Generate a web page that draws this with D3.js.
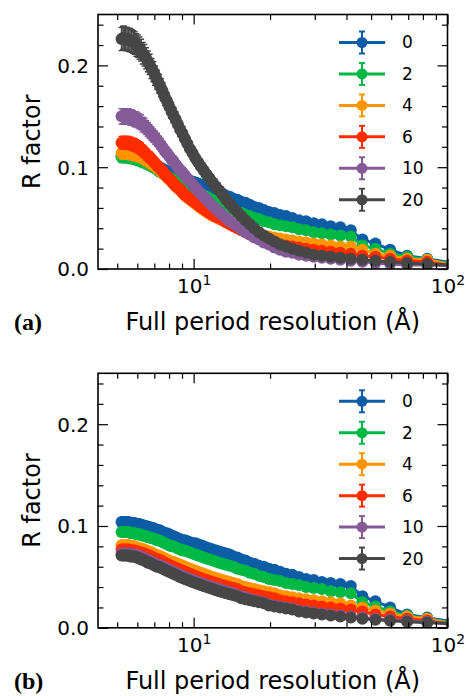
<!DOCTYPE html>
<html>
<head>
<meta charset="utf-8">
<script src="https://cdn.jsdelivr.net/npm/d3@7"></script>
<style>
  body { margin: 0; background: #fff; }
  svg { display: block; }
</style>
</head>
<body>
<svg width="466" height="696"></svg>
<script>
// resolution values (Å) shared by every series
var xVals = [5.2, 5.27, 5.33, 5.4, 5.47, 5.55, 5.62, 5.7, 5.78, 5.86, 5.94, 6.03, 6.12, 6.21, 6.3, 6.4, 6.5, 6.6, 6.71, 6.82,
  6.93, 7.05, 7.17, 7.3, 7.43, 7.56, 7.7, 7.85, 8, 8.16, 8.32, 8.49, 8.67, 8.85, 9.04, 9.24, 9.45, 9.67, 9.9, 10.15, 10.4,
  10.67, 10.95, 11.24, 11.56, 11.89, 12.24, 12.61, 13, 13.42, 13.87, 14.34, 14.86, 15.41, 16, 16.64, 17.33, 18.09, 18.91, 19.81, 20.8,
  21.89, 23.11, 24.47, 26, 27.73, 29.71, 32, 34.67, 37.82, 41.6, 46.22, 52, 59.43, 69.33, 83.2, 104];

var seriesNames = ['0', '2', '4', '6', '10', '20'];

// panel (a)
var a0 = [0.111,0.111,0.111,0.111,0.111,0.111,0.110,0.110,0.110,0.110,0.109,0.109,0.109,0.108,0.107,0.107,0.106,0.105,0.105,0.104,
  0.103,0.102,0.101,0.100,0.099,0.098,0.097,0.096,0.095,0.094,0.093,0.092,0.091,0.090,0.089,0.088,0.087,0.086,0.086,0.085,0.084,
  0.083,0.082,0.081,0.080,0.078,0.077,0.075,0.074,0.072,0.071,0.069,0.068,0.066,0.065,0.063,0.061,0.060,0.058,0.056,0.055,
  0.053,0.052,0.050,0.048,0.047,0.045,0.044,0.042,0.041,0.038,0.029,0.025,0.019,0.013,0.010,0.006];
var a2 = [0.110,0.110,0.110,0.110,0.110,0.110,0.109,0.109,0.109,0.108,0.108,0.107,0.107,0.106,0.105,0.105,0.104,0.103,0.102,0.101,
  0.100,0.099,0.098,0.096,0.095,0.094,0.093,0.091,0.090,0.089,0.088,0.086,0.085,0.084,0.083,0.081,0.080,0.079,0.078,0.076,0.075,
  0.074,0.072,0.071,0.069,0.068,0.066,0.065,0.063,0.062,0.060,0.058,0.056,0.055,0.053,0.052,0.050,0.049,0.047,0.046,0.044,
  0.043,0.042,0.041,0.039,0.038,0.036,0.035,0.034,0.033,0.032,0.023,0.020,0.015,0.012,0.009,0.005];
var a4 = [0.114,0.114,0.114,0.114,0.114,0.114,0.113,0.113,0.113,0.112,0.112,0.111,0.111,0.110,0.109,0.108,0.107,0.106,0.105,0.103,
  0.102,0.101,0.099,0.098,0.096,0.094,0.092,0.090,0.088,0.086,0.084,0.081,0.079,0.077,0.075,0.072,0.070,0.068,0.066,0.064,0.062,
  0.060,0.058,0.056,0.054,0.052,0.051,0.049,0.048,0.046,0.045,0.043,0.042,0.040,0.039,0.037,0.036,0.034,0.033,0.032,0.031,
  0.030,0.029,0.028,0.027,0.026,0.025,0.024,0.023,0.022,0.022,0.019,0.015,0.013,0.010,0.009,0.004];
var a6 = [0.124,0.124,0.124,0.124,0.124,0.124,0.123,0.123,0.122,0.122,0.121,0.120,0.119,0.118,0.116,0.115,0.113,0.111,0.110,0.108,
  0.106,0.104,0.102,0.100,0.098,0.096,0.093,0.091,0.089,0.087,0.084,0.082,0.080,0.078,0.075,0.073,0.071,0.069,0.067,0.065,0.063,
  0.061,0.059,0.057,0.055,0.053,0.051,0.050,0.048,0.046,0.044,0.042,0.040,0.038,0.036,0.034,0.032,0.031,0.029,0.027,0.026,
  0.024,0.023,0.022,0.021,0.020,0.019,0.018,0.017,0.016,0.015,0.013,0.012,0.010,0.008,0.007,0.003];
var a10 = [0.150,0.150,0.150,0.150,0.150,0.150,0.149,0.149,0.148,0.147,0.147,0.146,0.145,0.144,0.142,0.141,0.139,0.137,0.135,0.133,
  0.131,0.129,0.127,0.124,0.122,0.119,0.116,0.114,0.111,0.108,0.106,0.103,0.100,0.097,0.095,0.092,0.089,0.086,0.083,0.080,0.077,
  0.074,0.071,0.068,0.065,0.062,0.059,0.056,0.053,0.050,0.047,0.045,0.042,0.039,0.036,0.034,0.031,0.029,0.026,0.024,0.021,
  0.019,0.017,0.016,0.014,0.013,0.012,0.011,0.010,0.009,0.008,0.007,0.006,0.005,0.004,0.004,0.003];
var a20 = [0.226,0.227,0.227,0.226,0.226,0.225,0.225,0.224,0.223,0.222,0.220,0.219,0.217,0.215,0.212,0.210,0.207,0.204,0.201,0.197,
  0.194,0.190,0.186,0.182,0.178,0.174,0.169,0.165,0.160,0.156,0.151,0.147,0.142,0.137,0.133,0.128,0.123,0.118,0.114,0.109,0.105,
  0.101,0.097,0.093,0.089,0.085,0.081,0.077,0.073,0.068,0.064,0.060,0.056,0.052,0.048,0.044,0.040,0.036,0.033,0.030,0.027,
  0.024,0.022,0.020,0.018,0.016,0.014,0.013,0.012,0.011,0.010,0.009,0.008,0.007,0.006,0.005,0.004];

// panel (b)
var b0 = [0.104,0.104,0.104,0.104,0.104,0.104,0.103,0.103,0.103,0.103,0.102,0.102,0.102,0.101,0.101,0.100,0.100,0.099,0.099,0.098,
  0.098,0.097,0.096,0.096,0.095,0.094,0.093,0.093,0.092,0.091,0.090,0.089,0.088,0.087,0.086,0.086,0.085,0.084,0.083,0.083,0.082,
  0.081,0.080,0.079,0.078,0.077,0.076,0.075,0.074,0.073,0.072,0.070,0.069,0.067,0.066,0.064,0.063,0.061,0.060,0.058,0.057,
  0.055,0.053,0.052,0.050,0.048,0.047,0.045,0.044,0.043,0.041,0.031,0.026,0.020,0.013,0.010,0.006];
var b2 = [0.094,0.094,0.094,0.094,0.094,0.094,0.093,0.093,0.093,0.093,0.092,0.092,0.092,0.091,0.091,0.090,0.090,0.089,0.089,0.088,
  0.088,0.087,0.086,0.086,0.085,0.084,0.083,0.082,0.081,0.080,0.080,0.079,0.078,0.077,0.076,0.076,0.075,0.074,0.073,0.072,0.071,
  0.070,0.069,0.068,0.067,0.066,0.065,0.064,0.063,0.062,0.061,0.060,0.058,0.057,0.056,0.054,0.053,0.051,0.050,0.048,0.047,
  0.046,0.044,0.043,0.042,0.040,0.039,0.038,0.036,0.035,0.034,0.025,0.021,0.016,0.012,0.009,0.005];
var b4 = [0.081,0.081,0.081,0.081,0.081,0.081,0.080,0.080,0.080,0.080,0.079,0.079,0.078,0.078,0.077,0.077,0.076,0.075,0.075,0.074,
  0.073,0.072,0.071,0.071,0.070,0.069,0.068,0.067,0.066,0.065,0.065,0.064,0.063,0.062,0.061,0.060,0.059,0.058,0.057,0.056,0.055,
  0.054,0.053,0.052,0.051,0.050,0.049,0.048,0.047,0.046,0.045,0.044,0.043,0.041,0.040,0.039,0.038,0.037,0.036,0.035,0.034,
  0.032,0.031,0.030,0.029,0.028,0.027,0.026,0.025,0.024,0.022,0.020,0.017,0.014,0.011,0.009,0.004];
var b6 = [0.077,0.077,0.077,0.077,0.077,0.077,0.076,0.076,0.076,0.076,0.075,0.075,0.074,0.074,0.073,0.073,0.072,0.071,0.071,0.070,
  0.069,0.068,0.067,0.067,0.066,0.065,0.064,0.063,0.062,0.061,0.060,0.059,0.058,0.057,0.056,0.055,0.054,0.053,0.052,0.051,0.050,
  0.049,0.048,0.047,0.046,0.045,0.044,0.043,0.042,0.041,0.040,0.039,0.038,0.036,0.035,0.034,0.033,0.032,0.031,0.030,0.029,
  0.027,0.026,0.025,0.024,0.023,0.022,0.021,0.020,0.019,0.018,0.016,0.013,0.011,0.009,0.007,0.003];
var b10 = [0.073,0.073,0.073,0.073,0.073,0.073,0.072,0.072,0.072,0.072,0.071,0.071,0.070,0.069,0.069,0.068,0.067,0.066,0.066,0.065,
  0.064,0.063,0.062,0.062,0.061,0.060,0.059,0.058,0.057,0.056,0.055,0.054,0.053,0.052,0.051,0.050,0.049,0.048,0.047,0.046,0.045,
  0.044,0.043,0.042,0.041,0.040,0.039,0.038,0.037,0.036,0.035,0.034,0.032,0.031,0.030,0.028,0.027,0.026,0.025,0.023,0.022,
  0.021,0.020,0.019,0.017,0.016,0.015,0.014,0.013,0.012,0.011,0.010,0.009,0.008,0.007,0.006,0.004];
var b20 = [0.071,0.071,0.071,0.071,0.071,0.071,0.070,0.070,0.070,0.070,0.069,0.069,0.068,0.067,0.067,0.066,0.065,0.064,0.064,0.063,
  0.062,0.061,0.060,0.060,0.059,0.058,0.057,0.056,0.055,0.054,0.053,0.052,0.051,0.050,0.049,0.048,0.047,0.046,0.045,0.044,0.043,
  0.042,0.041,0.040,0.039,0.038,0.037,0.036,0.035,0.034,0.033,0.032,0.031,0.029,0.028,0.027,0.026,0.025,0.024,0.022,0.021,
  0.020,0.019,0.018,0.016,0.015,0.014,0.013,0.012,0.011,0.010,0.009,0.008,0.007,0.006,0.005,0.004];

// error bar half-width, percent of the value, per series
var errA = [5, 5, 5, 5, 5, 5];
var errB = [4, 4, 4, 4, 4, 4];

// ticks
var xMajor = [10, 100];
var xMinor = [5, 6, 7, 8, 9, 20, 30, 40, 50, 60, 70, 80, 90];
var yMajor = [0, 0.1, 0.2];
var yMinor = [0.02, 0.04, 0.06, 0.08, 0.12, 0.14, 0.16, 0.18, 0.22, 0.24];

var colors = ['#0C5DA5', '#00B945', '#FF9500', '#FF2C00', '#845B97', '#474747'];
var font = 'DejaVu Sans, sans-serif';

var svg = d3.select('svg');
svg.append('rect').attr('width', 466).attr('height', 696).attr('fill', '#fff');

var left = 98, right = 447.5;

function drawPanel(top, bottom, rows, errPct, tag, id) {
  var x = d3.scaleLog().domain([4.2, 100]).range([left, right]);
  var y = d3.scaleLinear().domain([0, 0.25]).range([bottom, top]);
  var g = svg.append('g');

  g.append('clipPath').attr('id', 'clip' + id)
    .append('rect')
    .attr('x', left).attr('y', top)
    .attr('width', right - left).attr('height', bottom - top);

  var plot = g.append('g').attr('clip-path', 'url(#clip' + id + ')');
  var line = d3.line().x(function(d) { return x(d.x); }).y(function(d) { return y(d.y); });

  rows.forEach(function(vals, i) {
    var c = colors[i];
    var pts = xVals.map(function(xv, j) {
      return {x: xv, y: vals[j], e: vals[j] * errPct[i] / 100};
    });
    var s = plot.append('g');

    // error bars with caps
    s.selectAll('.bar').data(pts).enter().append('line')
      .attr('x1', function(d) { return x(d.x); })
      .attr('x2', function(d) { return x(d.x); })
      .attr('y1', function(d) { return y(d.y - d.e); })
      .attr('y2', function(d) { return y(d.y + d.e); })
      .attr('stroke', c).attr('stroke-width', 1.5);
    [-1, 1].forEach(function(k) {
      s.selectAll('.cap' + k).data(pts).enter().append('line')
        .attr('x1', function(d) { return x(d.x) - 3; })
        .attr('x2', function(d) { return x(d.x) + 3; })
        .attr('y1', function(d) { return y(d.y + k * d.e); })
        .attr('y2', function(d) { return y(d.y + k * d.e); })
        .attr('stroke', c).attr('stroke-width', 1.5);
    });

    s.append('path').datum(pts)
      .attr('d', line)
      .attr('fill', 'none').attr('stroke', c).attr('stroke-width', 3);

    s.selectAll('circle').data(pts).enter().append('circle')
      .attr('cx', function(d) { return x(d.x); })
      .attr('cy', function(d) { return y(d.y); })
      .attr('r', 6)
      .attr('fill', c);
  });

  // axes, ticks pointing inward on all four sides
  function axisGroup(axis, tr) {
    var a = g.append('g').attr('transform', tr).call(axis);
    a.select('.domain').remove();
    a.selectAll('line').attr('stroke', '#000').attr('stroke-width', 1.2);
    a.attr('font-family', font).attr('font-size', 20);
    return a;
  }

  var xb = axisGroup(d3.axisBottom(x).tickValues(xMajor).tickSize(-10), 'translate(0,' + bottom + ')');
  xb.selectAll('text')
    .attr('y', 24).attr('dy', null).text(null)
    .each(function(d) {
      var t = d3.select(this);
      t.append('tspan').text('10');
      t.append('tspan').attr('font-size', 14).attr('dy', -8).text(Math.round(Math.log10(d)));
    });
  axisGroup(d3.axisBottom(x).tickValues(xMinor).tickSize(-5.5).tickFormat(''), 'translate(0,' + bottom + ')');
  axisGroup(d3.axisTop(x).tickValues(xMajor).tickSize(-10).tickFormat(''), 'translate(0,' + top + ')');
  axisGroup(d3.axisTop(x).tickValues(xMinor).tickSize(-5.5).tickFormat(''), 'translate(0,' + top + ')');

  var yl = axisGroup(d3.axisLeft(y).tickValues(yMajor).tickSize(-10).tickPadding(9).tickFormat(d3.format('.1f')),
    'translate(' + left + ',0)');
  yl.selectAll('text').attr('dy', '0.34em');
  axisGroup(d3.axisLeft(y).tickValues(yMinor).tickSize(-5.5).tickFormat(''), 'translate(' + left + ',0)');
  axisGroup(d3.axisRight(y).tickValues(yMajor).tickSize(-10).tickFormat(''), 'translate(' + right + ',0)');
  axisGroup(d3.axisRight(y).tickValues(yMinor).tickSize(-5.5).tickFormat(''), 'translate(' + right + ',0)');

  g.append('rect')
    .attr('x', left).attr('y', top)
    .attr('width', right - left).attr('height', bottom - top)
    .attr('fill', 'none').attr('stroke', '#000').attr('stroke-width', 1.6);

  // axis titles
  g.append('text')
    .attr('transform', 'translate(40,' + ((top + bottom) / 2) + ') rotate(-90)')
    .attr('text-anchor', 'middle')
    .attr('font-family', font).attr('font-size', 24)
    .text('R factor');

  g.append('text')
    .attr('x', (left + right) / 2).attr('y', bottom + 61)
    .attr('text-anchor', 'middle')
    .attr('font-family', font).attr('font-size', 24)
    .text('Full period resolution (Å)');

  g.append('text')
    .attr('x', 14).attr('y', bottom + 61)
    .attr('font-family', 'Liberation Serif, Times New Roman, serif')
    .attr('font-weight', 'bold').attr('font-size', 24)
    .text(tag);

  // legend
  var lg = g.append('g').attr('transform', 'translate(0,' + (top + 28) + ')');
  seriesNames.forEach(function(name, i) {
    var ly = i * 31.45;
    var c = colors[i];
    var row = lg.append('g').attr('transform', 'translate(0,' + ly + ')');
    row.append('line').attr('x1', 339).attr('x2', 385).attr('y1', 0).attr('y2', 0)
      .attr('stroke', c).attr('stroke-width', 3);
    row.append('line').attr('x1', 362).attr('x2', 362).attr('y1', -11).attr('y2', 11)
      .attr('stroke', c).attr('stroke-width', 2);
    [-11, 11].forEach(function(v) {
      row.append('line').attr('x1', 359).attr('x2', 365).attr('y1', v).attr('y2', v)
        .attr('stroke', c).attr('stroke-width', 2);
    });
    row.append('circle').attr('cx', 362).attr('cy', 0).attr('r', 5.5).attr('fill', c);
    row.append('text')
      .attr('x', 402).attr('y', 0).attr('dy', '0.35em')
      .attr('font-family', font).attr('font-size', 17)
      .text(name);
  });
}

drawPanel(14.5, 269, [a0, a2, a4, a6, a10, a20], errA, '(a)', 'a');
drawPanel(373.3, 627.8, [b0, b2, b4, b6, b10, b20], errB, '(b)', 'b');
</script>
</body>
</html>
